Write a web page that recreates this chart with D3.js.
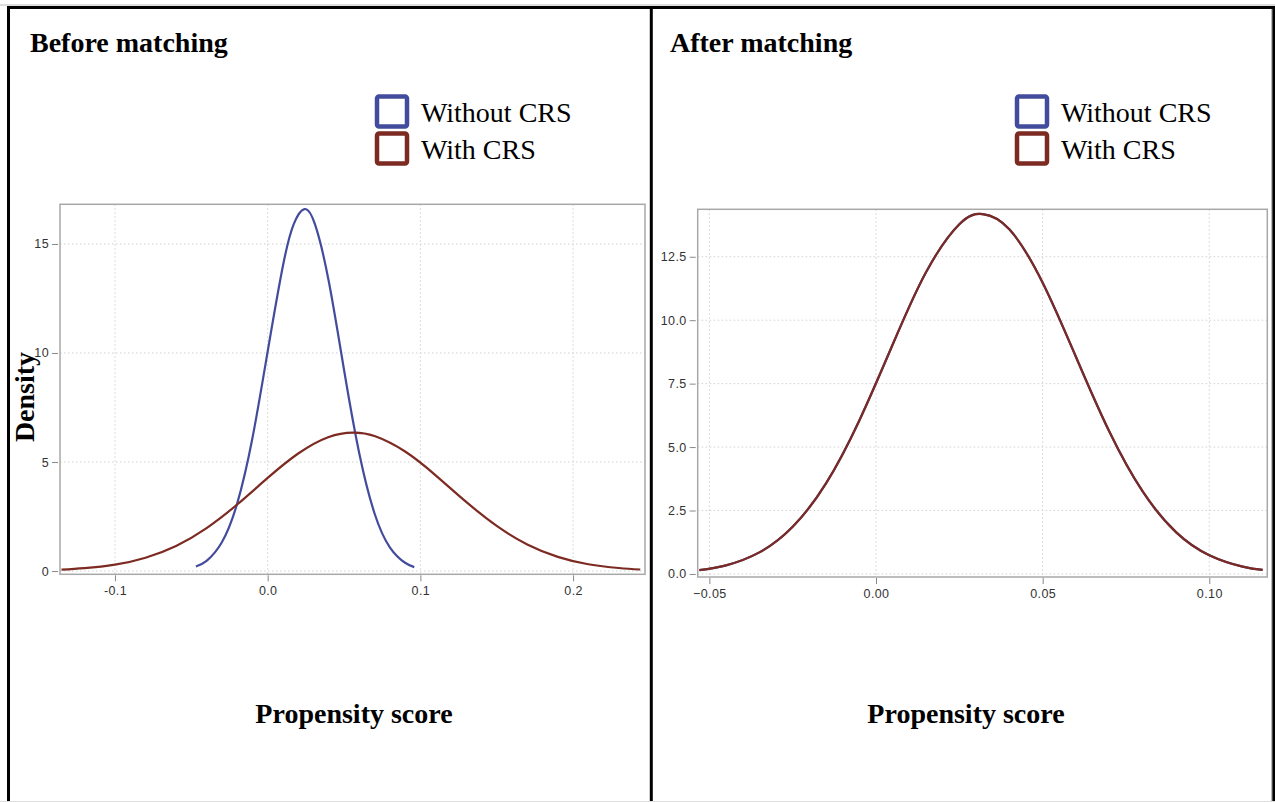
<!DOCTYPE html>
<html>
<head>
<meta charset="utf-8">
<script src="https://cdn.jsdelivr.net/npm/d3@7"></script>
<style>
  body { margin: 0; background: #fff; }
  svg { display: block; }
  .tick text { font-family: "Liberation Sans", Arial, sans-serif; font-size: 12.5px; fill: #333; letter-spacing: 0.4px; }
  .tick line { stroke: #888; }
  .domain { display: none; }
  .grid { stroke: #d0d0d0; stroke-width: 1; stroke-dasharray: 1.5,2.5; }
  .serif { font-family: "Liberation Serif", "Times New Roman", serif; fill: #000; }
</style>
</head>
<body>
<svg class="fig"></svg>
<script>
// legend groups
const groups = ["Without CRS", "With CRS"];
const groupColors = ["#434c9c", "#7c2a22"];

// before matching: density
const beforeWithout = [
	[-0.047, 0.21], [-0.04, 0.47], [-0.03, 1.32], [-0.02, 3.09], [-0.01, 6.09],
	[0.0, 10.07], [0.01, 14.0], [0.017, 15.9], [0.024, 16.6], [0.031, 15.9],
	[0.04, 13.29], [0.05, 9.23], [0.06, 5.39], [0.07, 2.64], [0.08, 1.09],
	[0.09, 0.38], [0.096, 0.18],
];
const beforeWith = [
	[-0.135, 0.06], [-0.12, 0.13], [-0.1, 0.29], [-0.08, 0.61], [-0.06, 1.15],
	[-0.04, 1.97], [-0.02, 3.05], [0.0, 4.27], [0.02, 5.39], [0.04, 6.15],
	[0.056, 6.35], [0.07, 6.19], [0.09, 5.48], [0.11, 4.39], [0.13, 3.17],
	[0.15, 2.07], [0.17, 1.22], [0.19, 0.65], [0.21, 0.31], [0.23, 0.14],
	[0.244, 0.07],
];

// after matching: both groups overlap
const afterWith = [
	[-0.053, 0.15], [-0.045, 0.34], [-0.035, 0.85], [-0.025, 1.86], [-0.015, 3.57],
	[-0.005, 6.05], [0.005, 9.04], [0.015, 11.89], [0.025, 13.78], [0.032, 14.18],
	[0.04, 13.58], [0.05, 11.48], [0.06, 8.55], [0.07, 5.61], [0.08, 3.25],
	[0.09, 1.65], [0.1, 0.74], [0.11, 0.29], [0.116, 0.16],
];
const afterWithout = afterWith.map((d) => [d[0], d[1]]);

// ticks
const beforeXTicks = [-0.1, 0, 0.1, 0.2];
const beforeXLabels = ["-0.1", "0.0", "0.1", "0.2"];
const beforeYTicks = [0, 5, 10, 15];
const beforeYLabels = ["0", "5", "10", "15"];
const afterXTicks = [-0.05, 0, 0.05, 0.1];
const afterXLabels = ["\u22120.05", "0.00", "0.05", "0.10"];
const afterYTicks = [0, 2.5, 5, 7.5, 10, 12.5];
const afterYLabels = ["0.0", "2.5", "5.0", "7.5", "10.0", "12.5"];

const size = { w: 1275, h: 802 };
const svg = d3.select("svg.fig").attr("width", size.w).attr("height", size.h);

// outer table borders
svg.append("line").attr("x1", 0).attr("x2", size.w).attr("y1", 5).attr("y2", 5)
	.attr("stroke", "#bbb").attr("stroke-width", 1);
svg.append("line").attr("x1", 7).attr("x2", size.w).attr("y1", 7.5).attr("y2", 7.5)
	.attr("stroke", "#000").attr("stroke-width", 3);
svg.append("line").attr("x1", 8.5).attr("x2", 8.5).attr("y1", 6).attr("y2", size.h)
	.attr("stroke", "#000").attr("stroke-width", 3);
svg.append("line").attr("x1", 651.3).attr("x2", 651.3).attr("y1", 6).attr("y2", size.h)
	.attr("stroke", "#000").attr("stroke-width", 3);
svg.append("line").attr("x1", 1273.8).attr("x2", 1273.8).attr("y1", 6).attr("y2", size.h)
	.attr("stroke", "#000").attr("stroke-width", 3);
svg.append("line").attr("x1", 1271.5).attr("x2", 1271.5).attr("y1", 9).attr("y2", size.h)
	.attr("stroke", "#bbb").attr("stroke-width", 1);
svg.append("line").attr("x1", 0).attr("x2", size.w).attr("y1", 801.5).attr("y2", 801.5)
	.attr("stroke", "#ddd").attr("stroke-width", 1);

function drawPanel(p) {
	const g = svg.append("g").attr("transform", `translate(${p.dx},0)`);

	g.append("text").attr("class", "serif")
		.attr("x", p.titleX).attr("y", 52)
		.style("font-size", "28px").style("font-weight", "bold")
		.text(p.title);

	// legend
	const leg = g.selectAll("g.leg").data(groups).join("g").attr("class", "leg")
		.attr("transform", (d, i) => `translate(377,${96.5 + i * 37})`);
	leg.append("rect").attr("width", 30).attr("height", 30).attr("rx", 2)
		.attr("fill", "none").attr("stroke", (d, i) => groupColors[i]).attr("stroke-width", 4.5);
	leg.append("text").attr("class", "serif").attr("x", 44).attr("y", 25)
		.style("font-size", "28px").text((d) => d);

	const x = d3.scaleLinear().domain(p.xDomain).range(p.xRange);
	const y = d3.scaleLinear().domain(p.yDomain).range(p.yRange);

	// grid
	g.selectAll("line.gx").data(p.xTicks).join("line").attr("class", "grid")
		.attr("x1", (d) => x(d)).attr("x2", (d) => x(d))
		.attr("y1", p.yRange[1]).attr("y2", p.yRange[0]);
	g.selectAll("line.gy").data(p.yTicks).join("line").attr("class", "grid")
		.attr("x1", p.xRange[0]).attr("x2", p.xRange[1])
		.attr("y1", (d) => y(d)).attr("y2", (d) => y(d));

	// axes
	g.append("g").attr("transform", `translate(${p.xRange[0] - 2},0)`)
		.call(d3.axisLeft(y).tickValues(p.yTicks).tickSize(6).tickPadding(3)
			.tickFormat((d, i) => p.yLabels[i]));
	g.append("g").attr("transform", `translate(0,${p.yRange[0] + 1})`)
		.call(d3.axisBottom(x).tickValues(p.xTicks).tickSize(6).tickPadding(5)
			.tickFormat((d, i) => p.xLabels[i]));

	// frame
	g.append("rect")
		.attr("x", p.xRange[0]).attr("y", p.yRange[1])
		.attr("width", p.xRange[1] - p.xRange[0]).attr("height", p.yRange[0] - p.yRange[1])
		.attr("fill", "none").attr("stroke", "#a8a8a8").attr("stroke-width", 1.5);

	const line = d3.line().x((d) => x(d[0])).y((d) => y(d[1])).curve(d3.curveNatural);
	p.series.forEach((s, i) => {
		g.append("path").datum(s).attr("d", line)
			.attr("fill", "none").attr("stroke", groupColors[i])
			.attr("stroke-width", 2.2);
	});

	g.append("text").attr("class", "serif")
		.attr("x", p.xLabelX).attr("y", 723).attr("text-anchor", "middle")
		.style("font-size", "28px").style("font-weight", "bold")
		.text("Propensity score");
	return g;
}

const left = drawPanel({
	dx: 0, title: "Before matching", titleX: 30,
	xDomain: [-0.136, 0.2471], xRange: [60, 645],
	yDomain: [-0.15, 16.82], yRange: [574.3, 204.3],
	xTicks: beforeXTicks, xLabels: beforeXLabels,
	yTicks: beforeYTicks, yLabels: beforeYLabels,
	series: [beforeWithout, beforeWith], xLabelX: 354,
});
left.append("text").attr("class", "serif")
	.attr("transform", "translate(34,397) rotate(-90)").attr("text-anchor", "middle")
	.style("font-size", "28px").style("font-weight", "bold")
	.text("Density");

drawPanel({
	dx: 640, title: "After matching", titleX: 30,
	xDomain: [-0.0535, 0.1174], xRange: [57.7, 627.3],
	yDomain: [-0.12, 14.37], yRange: [577, 209.3],
	xTicks: afterXTicks, xLabels: afterXLabels,
	yTicks: afterYTicks, yLabels: afterYLabels,
	series: [afterWithout, afterWith], xLabelX: 326,
});
</script>
</body>
</html>
